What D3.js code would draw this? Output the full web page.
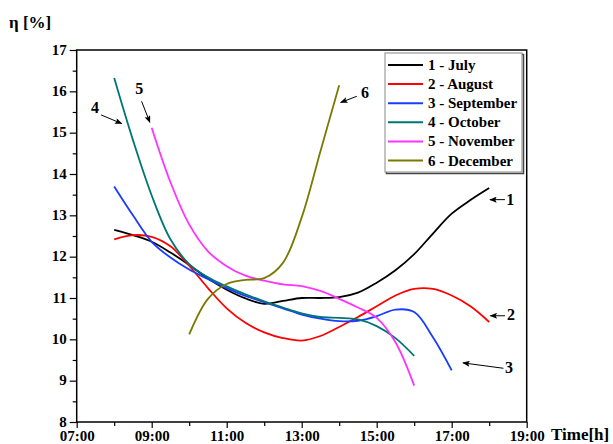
<!DOCTYPE html>
<html>
<head>
<meta charset="utf-8">
<script src="https://cdn.jsdelivr.net/npm/d3@7"></script>
<style>
  html, body { margin: 0; padding: 0; background: #fff; }
  svg { display: block; font-family: "Liberation Serif", "Times New Roman", serif; font-weight: bold; }
</style>
</head>
<body>
<svg id="chart" width="613" height="444"></svg>
<script>
// ---- data (time in decimal hours, efficiency in %) ----
const julyT = [8, 8.5, 9, 9.5, 10, 10.5, 11, 11.5, 12, 12.5, 13, 13.5, 14, 14.5, 15, 15.5, 16, 16.5, 17, 17.5, 18];
const julyV = [12.65, 12.52, 12.36, 12.1, 11.8, 11.47, 11.2, 10.99, 10.86, 10.93, 11.0, 11.0, 11.02, 11.13, 11.37, 11.67, 12.06, 12.56, 13.04, 13.37, 13.66];

const augustT = [8, 8.5, 9, 9.5, 10, 10.5, 11, 11.5, 12, 12.5, 13, 13.5, 14, 14.5, 15, 15.5, 16, 16.5, 17, 17.5, 18];
const augustV = [12.42, 12.52, 12.48, 12.25, 11.78, 11.24, 10.75, 10.4, 10.17, 10.03, 9.97, 10.08, 10.3, 10.54, 10.8, 11.06, 11.22, 11.22, 11.06, 10.8, 10.42];

const septemberT = [8, 8.5, 9, 9.5, 10, 10.5, 11, 11.5, 12, 12.5, 13, 13.5, 14, 14.5, 15, 15.5, 16, 16.5, 17];
const septemberV = [13.7, 13.0, 12.36, 11.98, 11.69, 11.46, 11.24, 11.05, 10.9, 10.75, 10.6, 10.5, 10.44, 10.45, 10.56, 10.72, 10.66, 10.05, 9.25];

const octoberT = [8, 8.5, 9, 9.5, 10, 10.5, 11, 11.5, 12, 12.5, 13, 13.5, 14, 14.5, 15, 15.5, 16];
const octoberV = [16.32, 14.82, 13.48, 12.42, 11.82, 11.5, 11.28, 11.09, 10.92, 10.77, 10.63, 10.54, 10.52, 10.48, 10.32, 10.03, 9.6];

const novemberT = [9, 9.5, 10, 10.5, 11, 11.5, 12, 12.5, 13, 13.5, 14, 14.5, 15, 15.5, 16];
const novemberV = [15.12, 13.8, 12.78, 12.13, 11.77, 11.54, 11.42, 11.33, 11.29, 11.17, 10.98, 10.77, 10.52, 9.93, 8.88];

const decemberT = [10, 10.5, 11, 11.5, 12, 12.5, 13, 13.5, 14];
const decemberV = [10.12, 10.98, 11.34, 11.44, 11.48, 11.85, 12.95, 14.55, 16.15];

const seriesNames = ["1 - July", "2 - August", "3 - September", "4 - October", "5 - November", "6 - December"];
const seriesColors = ["#000000", "#ff0000", "#1a3cff", "#007575", "#ff33ff", "#7a7a00"];

const xMajorTicks = [7, 9, 11, 13, 15, 17, 19];
const xMinorTicks = [8, 10, 12, 14, 16, 18];
const yMajorTicks = [8, 9, 10, 11, 12, 13, 14, 15, 16, 17];
const yMinorTicks = [8.5, 9.5, 10.5, 11.5, 12.5, 13.5, 14.5, 15.5, 16.5];

// annotations: label, label position (t, v), arrow start, arrow end
const annoLabels = ["4", "5", "6", "1", "2", "3"];
const annoText = [[7.49, 15.6], [8.67, 16.06], [14.69, 15.96], [18.56, 13.38], [18.58, 10.6], [18.53, 9.33]];
const annoFrom = [[7.65, 15.43], [8.73, 15.76], [14.47, 15.88], [18.42, 13.38], [18.42, 10.57], [18.38, 9.3]];
const annoTo = [[8.2, 15.22], [8.95, 15.25], [14.04, 15.73], [18.02, 13.38], [18.03, 10.57], [17.3, 9.43]];

// ---- chart ----
const svg = d3.select("#chart");
const pLeft = 76.7, pRight = 526.7, pTop = 50, pBottom = 422;

const x = d3.scaleLinear().domain([7, 19]).range([pLeft, pRight]);
const y = d3.scaleLinear().domain([8, 17]).range([pBottom, pTop]);

const fmt = d => String(d).padStart(2, "0") + ":00";

// axes
const gx = svg.append("g").attr("transform", `translate(0,${pBottom})`)
  .call(d3.axisBottom(x).tickValues(xMajorTicks).tickSize(6).tickPadding(2.5).tickFormat(fmt));
const gxm = svg.append("g").attr("transform", `translate(0,${pBottom})`)
  .call(d3.axisBottom(x).tickValues(xMinorTicks).tickSize(4).tickFormat(""));
const gy = svg.append("g").attr("transform", `translate(${pLeft},0)`)
  .call(d3.axisLeft(y).tickValues(yMajorTicks).tickSize(7).tickPadding(3).tickFormat(d3.format("d")));
const gym = svg.append("g").attr("transform", `translate(${pLeft},0)`)
  .call(d3.axisLeft(y).tickValues(yMinorTicks).tickSize(4).tickFormat(""));

[gx, gxm, gy, gym].forEach(g => {
  g.select(".domain").remove();
  g.selectAll("line").attr("stroke", "#000").attr("stroke-width", 1.2);
  g.selectAll("text").attr("fill", "#000").style("font-size", "15px")
    .style("font-family", '"Liberation Serif", "Times New Roman", serif').style("font-weight", "bold");
});
gy.selectAll("text").attr("dy", "0.28em");

// frame
svg.append("rect").attr("x", pLeft).attr("y", pTop).attr("width", pRight - pLeft).attr("height", pBottom - pTop)
  .attr("fill", "none").attr("stroke", "#000").attr("stroke-width", 1.5);

// axis titles
svg.append("text").attr("x", 9).attr("y", 28).style("font-size", "17px").text("η [%]");
svg.append("text").attr("x", 551).attr("y", 440).style("font-size", "17px").text("Time[h]");

// lines
const allT = [julyT, augustT, septemberT, octoberT, novemberT, decemberT];
const allV = [julyV, augustV, septemberV, octoberV, novemberV, decemberV];
const line = d3.line().x(d => x(d[0])).y(d => y(d[1])).curve(d3.curveCatmullRom.alpha(0.5));

allT.forEach((ts, i) => {
  const pts = ts.map((t, j) => [t, allV[i][j]]);
  svg.append("path").datum(pts).attr("d", line)
    .attr("fill", "none").attr("stroke", seriesColors[i]).attr("stroke-width", 1.8);
});

// arrow marker
svg.append("defs").append("marker").attr("id", "arr")
  .attr("viewBox", "0 -4 10 8").attr("refX", 9).attr("refY", 0)
  .attr("markerWidth", 9).attr("markerHeight", 6).attr("markerUnits", "userSpaceOnUse")
  .attr("orient", "auto")
  .append("path").attr("d", "M0,-4L10,0L0,4L2,0Z").attr("fill", "#000");

annoLabels.forEach((lab, i) => {
  svg.append("line")
    .attr("x1", x(annoFrom[i][0])).attr("y1", y(annoFrom[i][1]))
    .attr("x2", x(annoTo[i][0])).attr("y2", y(annoTo[i][1]))
    .attr("stroke", "#000").attr("stroke-width", 1).attr("marker-end", "url(#arr)");
  svg.append("text").attr("x", x(annoText[i][0])).attr("y", y(annoText[i][1]))
    .attr("text-anchor", "middle").attr("dominant-baseline", "central")
    .style("font-size", "16px").text(lab);
});

// legend
const lgX = 385, lgY = 53, lgW = 137, lgH = 119;
svg.append("rect").attr("x", lgX + 1.5).attr("y", lgY + 1.5).attr("width", lgW).attr("height", lgH)
  .attr("fill", "none").attr("stroke", "#444").attr("stroke-width", 1.5);
svg.append("rect").attr("x", lgX).attr("y", lgY).attr("width", lgW).attr("height", lgH)
  .attr("fill", "#fff").attr("stroke", "#888").attr("stroke-width", 1);
const lg = svg.append("g");
seriesNames.forEach((name, i) => {
  const cy = lgY + 12 + i * 19.1;
  lg.append("line").attr("x1", lgX + 3).attr("x2", lgX + 38).attr("y1", cy).attr("y2", cy)
    .attr("stroke", seriesColors[i]).attr("stroke-width", 2);
  lg.append("text").attr("x", lgX + 43).attr("y", cy).attr("dominant-baseline", "central")
    .style("font-size", "15px").text(name);
});
</script>
</body>
</html>
